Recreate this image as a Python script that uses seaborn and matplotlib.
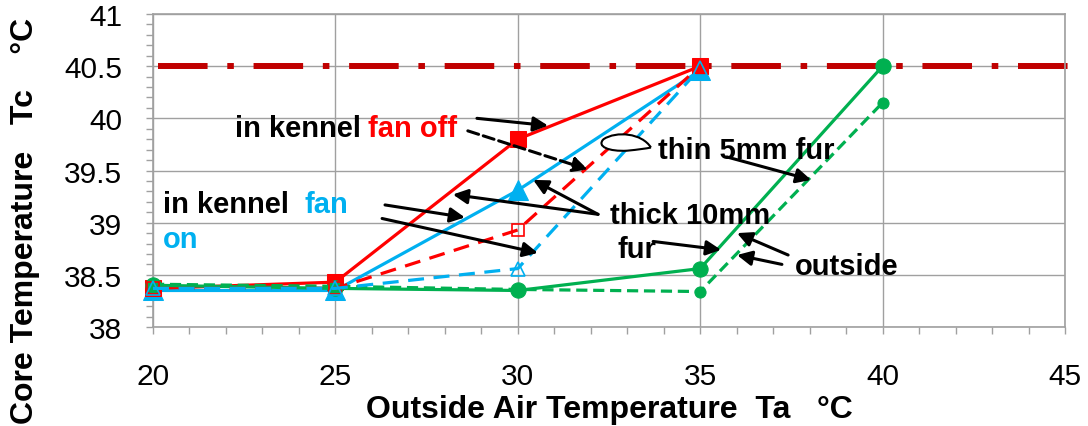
import matplotlib
matplotlib.use("Agg")
import matplotlib.pyplot as plt
import seaborn as sns
import numpy as np
from matplotlib.path import Path
from matplotlib.patches import PathPatch
from matplotlib.ticker import MultipleLocator

# ---- data ----
x_kennel = [20, 25, 30, 35]
red_fanoff_thick = [38.37, 38.43, 39.80, 40.50]
red_fanoff_thin = [38.37, 38.37, 38.93, 40.50]
blue_fanon_thick = [38.35, 38.35, 39.31, 40.46]
blue_fanon_thin = [38.37, 38.37, 38.56, 40.48]
x_outside = [20, 25, 30, 35, 40]
green_outside_thick = [38.40, 38.37, 38.35, 38.56, 40.50]
green_outside_thin = [38.41, 38.39, 38.36, 38.34, 40.15]
limit_temp = 40.5
x_ticks = [20, 25, 30, 35, 40, 45]
y_ticks = [38, 38.5, 39, 39.5, 40, 40.5, 41]
y_tick_labels = ["38", "38.5", "39", "39.5", "40", "40.5", "41"]

RED = "#FF0000"
BLUE = "#00B0F0"
GREEN = "#00B050"
DARKRED = "#C00000"
GRID = "#A0A0A0"

sns.set_theme(style="white")
plt.rcParams["font.family"] = ["Liberation Sans", "DejaVu Sans"]

fig = plt.figure(figsize=(10.88, 4.27), dpi=100)
ax = fig.add_axes([153 / 1088, 1 - 328 / 427, 912 / 1088, 313 / 427])

# reference line
ax.axhline(limit_temp, xmin=0.005, xmax=1.009, color=DARKRED, lw=4.3,
           dashes=(8.3, 3.3, 1.1, 3.3), clip_on=False, zorder=2)

# series
common = dict(ax=ax, lw=2.3, clip_on=False)
sns.lineplot(x=x_kennel, y=blue_fanon_thick, color=BLUE,
             marker="^", markersize=15, markeredgecolor=BLUE, zorder=3, **common)
sns.lineplot(x=x_kennel, y=red_fanoff_thick, color=RED,
             marker="s", markersize=12, markeredgecolor=RED, zorder=4, **common)
sns.lineplot(x=x_outside, y=green_outside_thick, color=GREEN,
             marker="o", markersize=11, markeredgecolor=GREEN, zorder=4, **common)
sns.lineplot(x=x_outside, y=green_outside_thin, color=GREEN,
             linestyle=(0, (3.5, 1.8)), marker="o", markersize=8,
             markeredgecolor=GREEN, zorder=5, **common)
sns.lineplot(x=x_kennel, y=red_fanoff_thin, color=RED,
             linestyle=(0, (5, 3)), marker="s", markersize=8.5,
             markerfacecolor="none", markeredgecolor=RED, markeredgewidth=1.2,
             zorder=5, **common)
sns.lineplot(x=x_kennel, y=blue_fanon_thin, color=BLUE,
             linestyle=(0, (5, 3)), marker="^", markersize=10,
             markerfacecolor="none", markeredgecolor=BLUE, markeredgewidth=1.2,
             zorder=5, **common)

# axes styling
ax.set_xlim(20, 45)
ax.set_ylim(38, 41)
ax.set_xticks(x_ticks)
ax.set_yticks(y_ticks)
ax.set_yticklabels(y_tick_labels)
ax.xaxis.set_minor_locator(MultipleLocator(1))
ax.yaxis.set_minor_locator(MultipleLocator(0.1))
ax.grid(True, which="major", color=GRID, lw=1.0)
ax.set_axisbelow(True)
for s in ax.spines.values():
    s.set_color(GRID)
    s.set_linewidth(1.2)
ax.tick_params(axis="both", which="both", direction="out", color=GRID,
               width=1.0, length=5, labelsize=21.5, labelcolor="black")
ax.tick_params(axis="x", which="major", pad=20)
ax.tick_params(axis="y", which="major", pad=17)
ax.tick_params(left=True, bottom=True)
ax.tick_params(which="minor", left=True, bottom=True)

ax.set_xlabel("Outside Air Temperature  Ta   \u00b0C", fontsize=23,
              fontweight="bold", color="black")
ax.xaxis.label.set_va("center")
ax.xaxis.set_label_coords(0.5, (328 - 410) / 313)
ax.set_ylabel("Core Temperature   Tc    \u00b0C", fontsize=23,
              fontweight="bold", color="black")
ax.yaxis.label.set_va("center")
ax.yaxis.set_label_coords((25 - 153) / 912, (328 - 221) / 313)

# annotations text
tk = dict(fontsize=21, fontweight="bold", va="baseline", ha="left", zorder=6)
ax.text(22.25, 39.826, "in kennel", color="black", **tk)
ax.text(25.89, 39.826, "fan off", color=RED, **tk)
ax.text(20.27, 39.10, "in kennel", color="black", **tk)
ax.text(24.14, 39.10, "fan", color=BLUE, **tk)
ax.text(20.27, 38.77, "on", color=BLUE, **tk)
ax.text(33.84, 39.62, "thin 5mm fur", color="black", **tk)
ax.text(32.53, 39.00, "thick 10mm", color="black", **tk)
ax.text(32.72, 38.67, "fur", color="black", **tk)
ax.text(37.60, 38.51, "outside", color="black", **tk)

# arrows (tail -> head)
arrows = [
    ((28.88, 40.00), (30.83, 39.93), "-"),
    ((28.63, 39.88), (31.92, 39.51), "--"),
    ((32.20, 39.08), (28.22, 39.27), "-"),
    ((32.20, 39.08), (30.42, 39.41), "-"),
    ((26.36, 39.17), (28.55, 39.05), "-"),
    ((26.28, 39.04), (30.55, 38.71), "-"),
    ((35.73, 39.63), (38.04, 39.41), "-"),
    ((33.71, 38.82), (35.57, 38.74), "-"),
    ((37.41, 38.69), (36.01, 38.90), "-"),
    ((37.24, 38.60), (36.01, 38.69), "-"),
]
for tail, head, ls in arrows:
    ax.annotate("", xy=head, xytext=tail,
                arrowprops=dict(arrowstyle="-|>", color="black", lw=2.2,
                                linestyle=ls, mutation_scale=22,
                                shrinkA=0, shrinkB=0), zorder=6)

# lasso blob near "thin 5mm fur"
verts = [(33.65, 39.72),
         (33.4, 39.86), (32.7, 39.88), (32.35, 39.80),
         (32.15, 39.73), (32.5, 39.68), (33.0, 39.69),
         (33.3, 39.70), (33.5, 39.71), (33.65, 39.72)]
codes = [Path.MOVETO] + [Path.CURVE4] * 9
ax.add_patch(PathPatch(Path(verts, codes), facecolor="white", edgecolor="black",
                       lw=1.5, zorder=6))

fig.savefig("out.png", dpi=100)
